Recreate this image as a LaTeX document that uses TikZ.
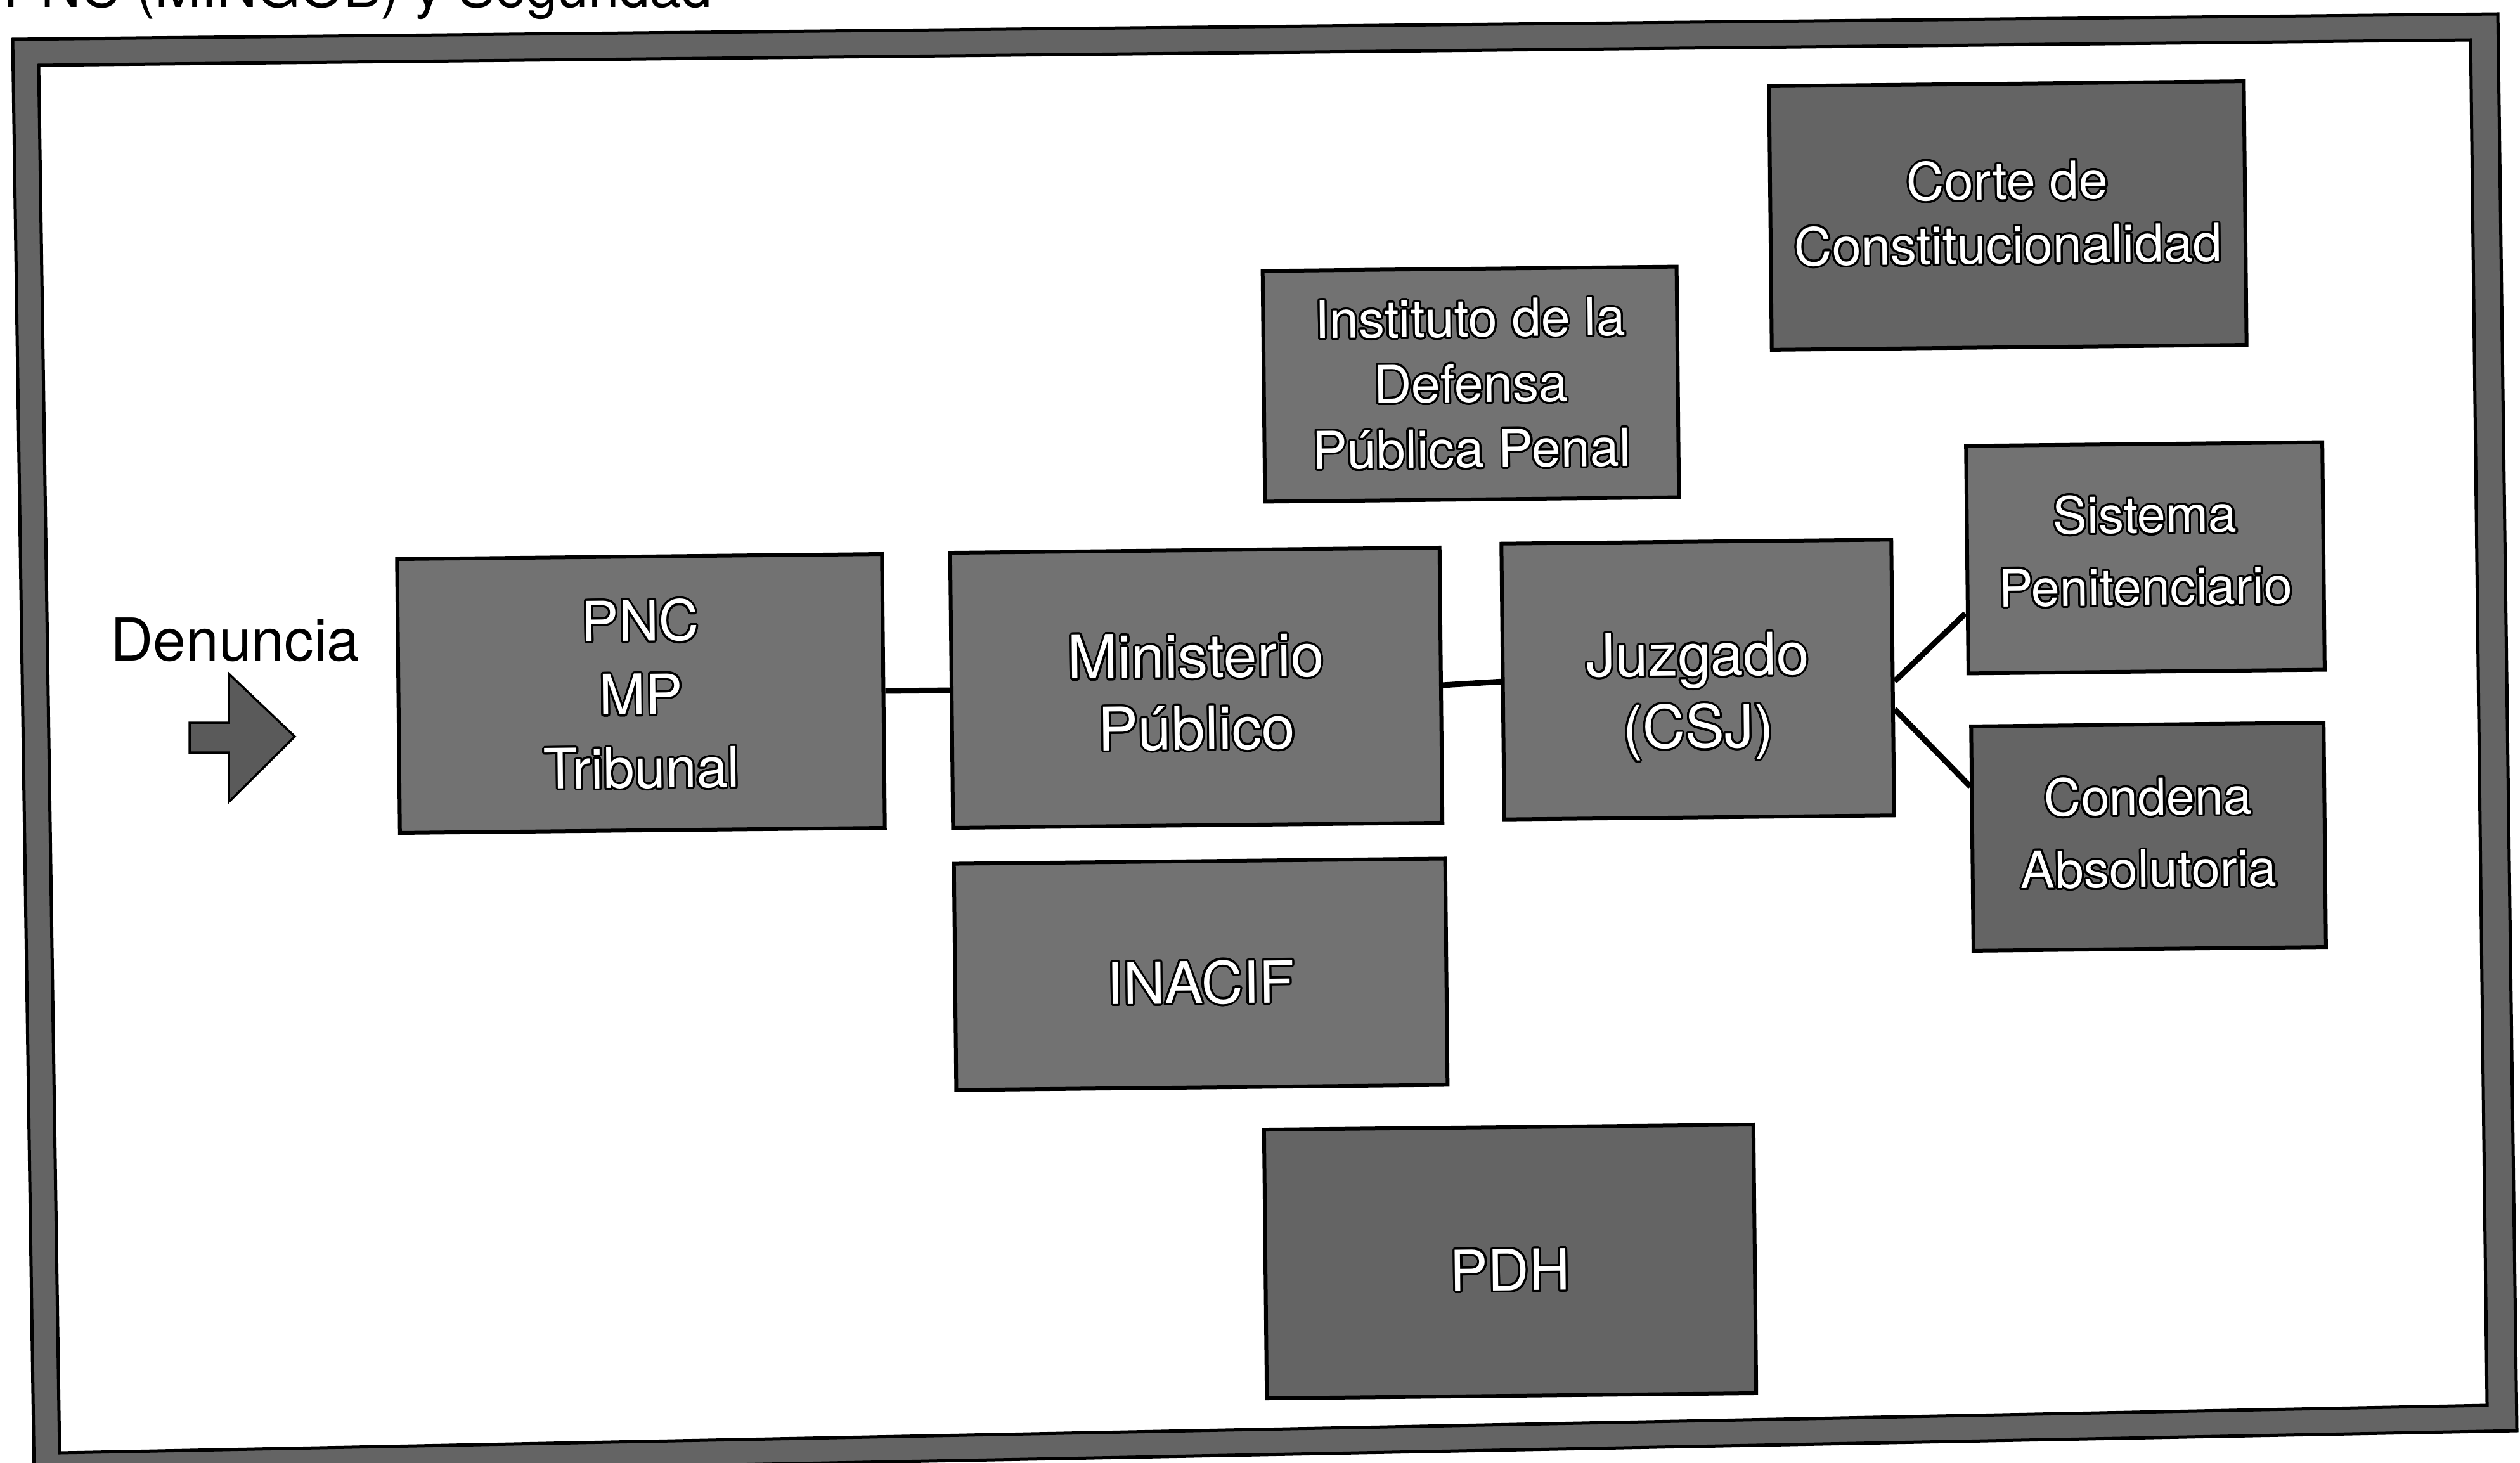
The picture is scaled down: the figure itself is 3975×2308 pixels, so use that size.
\documentclass[tikz,border=0pt]{standalone}
\usepackage{fontspec}
\setmainfont{TeX Gyre Heros}
\usepackage[copies]{contour}
\contourlength{0.9pt}
\contournumber{24}
\definecolor{boxgray}{RGB}{114,114,114}
\definecolor{boxdark}{RGB}{100,100,100}
\definecolor{framegray}{RGB}{100,100,100}
\definecolor{arrowgray}{RGB}{90,90,90}
\newcommand{\wt}[1]{\contour{black}{#1}}
\newcommand{\bt}[2]{\raisebox{#1}[\height][\depth]{\begin{tabular}{@{}c@{}}#2\end{tabular}}}
\tikzset{
  box/.style={draw=black, line width=0.6mm, fill=boxgray, inner sep=0pt,
    align=center, text=white, rotate=0.6},
  darkbox/.style={fill=boxdark},
  conn/.style={line width=0.9mm},
}
\begin{document}
\begin{tikzpicture}[x=0.1mm, y=-0.1mm]
\useasboundingbox (0,0) rectangle (3975,2308);
\fill[white] (0,0) rectangle (3975,2308);

% partial heading line cut at the top
\node[anchor=base west, inner sep=0pt, font=\fontsize{25}{30}\selectfont] (head) at (5,12) {PNC (MINGOB) y Seguridad};

% frame
\draw[fill=framegray, line width=0.5mm, even odd rule, line join=miter]
  (20,62) -- (3940,22) -- (3970,2257) -- (54,2332) -- cycle
  (61,103) -- (3897,63) -- (3923,2217) -- (94,2292) -- cycle;

% Denuncia + arrow
\node[anchor=base, inner sep=0pt, font=\fontsize{26.5}{30}\selectfont] (den) at (371,1042) {Denuncia};
\draw[fill=arrowgray, line width=0.35mm, line join=miter]
  (299,1140) -- (361,1140) -- (361,1063) -- (465,1162) -- (361,1265) -- (361,1187) -- (299,1187) -- cycle;

% boxes
\node[box, minimum width=76.5mm, minimum height=43.2mm, font=\fontsize{25}{33}\selectfont]
  (pnc) at (1011,1094) {\bt{-1mm}{\wt{PNC}\\\wt{MP}\\\wt{Tribunal}}};
\node[box, minimum width=77.2mm, minimum height=43.4mm, font=\fontsize{27}{32.4}\selectfont]
  (mp) at (1887,1085) {\bt{-1.8mm}{\wt{Ministerio}\\\wt{Público}}};
\node[box, minimum width=61.5mm, minimum height=43.5mm, font=\fontsize{26.5}{32.4}\selectfont]
  (juz) at (2678,1072) {\bt{-2.8mm}{\wt{Juzgado}\\\wt{(CSJ)}}};
\node[box, minimum width=65.3mm, minimum height=36.4mm, font=\fontsize{23.5}{29.3}\selectfont]
  (inst) at (2320,606) {\bt{-0.8mm}{\wt{Instituto de la}\\\wt{Defensa}\\\wt{Pública Penal}}};
\node[box, darkbox, minimum width=74.9mm, minimum height=41.6mm, font=\fontsize{23.5}{28.7}\selectfont]
  (corte) at (3167,340) {\bt{-0.5mm}{\wt{Corte de}\\\wt{Constitucionalidad}}};
\node[box, minimum width=56.2mm, minimum height=35.9mm, font=\fontsize{23}{32.4}\selectfont]
  (sis) at (3384,880) {\bt{0.5mm}{\wt{Sistema}\\\wt{Penitenciario}}};
\node[box, darkbox, minimum width=55.6mm, minimum height=35.4mm, font=\fontsize{23}{32.4}\selectfont]
  (con) at (3389,1320) {\bt{0mm}{\wt{Condena}\\\wt{Absolutoria}}};
\node[box, minimum width=77.5mm, minimum height=35.7mm, font=\fontsize{26}{30}\selectfont]
  (inacif) at (1894,1537) {\bt{-2.5mm}{\wt{INACIF}}};
\node[box, darkbox, minimum width=77.2mm, minimum height=42.4mm, font=\fontsize{25.5}{30}\selectfont]
  (pdh) at (2382,1990) {\bt{-2.5mm}{\wt{PDH}}};

% connectors
\draw[conn] (pnc.east) -- (mp.west);
\draw[conn] (mp.east) -- (juz.west);
\draw[conn] ([yshift=-0.6mm]juz.east) -- ([yshift=-8.5mm]sis.west);
\draw[conn] ([yshift=-5mm]juz.east) -- ([yshift=8.2mm]con.west);
\end{tikzpicture}
\end{document}
